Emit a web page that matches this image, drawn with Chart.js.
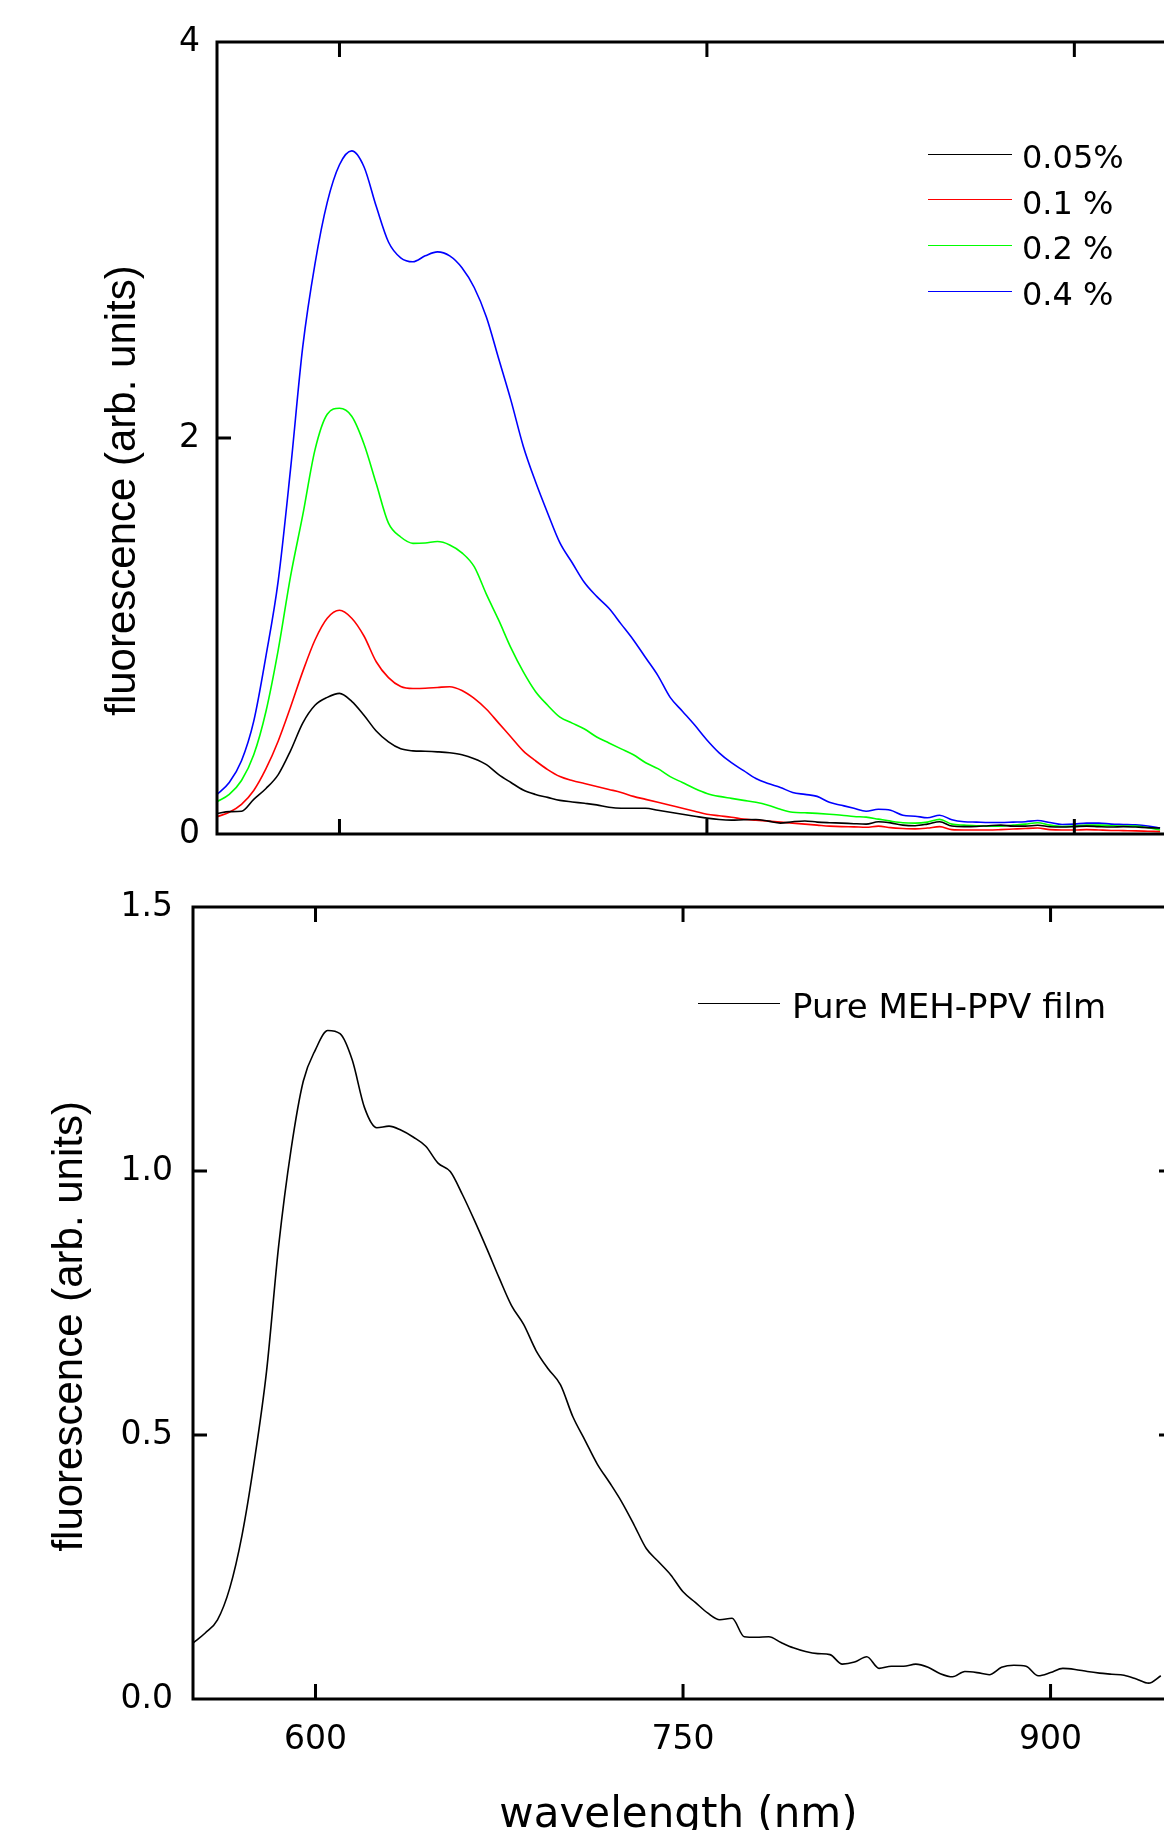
<!DOCTYPE html>
<html>
<head>
<meta charset="utf-8">
<script src="https://cdn.jsdelivr.net/npm/chart.js@4.4.1/dist/chart.umd.min.js"></script>
<style>
  html, body { margin: 0; padding: 0; overflow: hidden; background: #fff; }
  body { width: 1164px; height: 1830px; position: relative; }
  .box { position: absolute; left: 0; width: 1164px; }
  #topBox { top: 0; height: 880px; }
  #bottomBox { top: 860px; height: 990px; }
  .legend-row { position: absolute; height: 50px; display: flex; align-items: center; white-space: nowrap; font-family: "DejaVu Sans"; color: #000; }
  .swatch { display: inline-block; height: 0; border-top: 1.5px solid #000; }
  .legend-row .name { padding-top: 6px; }
</style>
</head>
<body>
<div class="box" id="topBox"><canvas id="topChart"></canvas></div>
<div class="box" id="bottomBox"><canvas id="bottomChart"></canvas></div>
<script>
// tick values
const xTickValues = [600, 750, 900];
const topYTickValues = [0, 2, 4];
const bottomYTickValues = [0, 0.5, 1, 1.5];

// upper panel: fluorescence of the blends, 550-935 nm in 5 nm steps
const topWavelengths = [
  550, 555, 560, 565, 570, 575, 580, 585, 590, 595,
  600, 605, 610, 615, 620, 625, 630, 635, 640, 645,
  650, 655, 660, 665, 670, 675, 680, 685, 690, 695,
  700, 705, 710, 715, 720, 725, 730, 735, 740, 745,
  750, 755, 760, 765, 770, 775, 780, 785, 790, 795,
  800, 805, 810, 815, 820, 825, 830, 835, 840, 845,
  850, 855, 860, 865, 870, 875, 880, 885, 890, 895,
  900, 905, 910, 915, 920, 925, 930, 935
];
const topNames = ["0.05%", "0.1 %", "0.2 %", "0.4 %"];
const conc005 = [
  0.104, 0.113, 0.115, 0.175, 0.23, 0.30, 0.42, 0.56, 0.65, 0.69,
  0.71, 0.67, 0.60, 0.52, 0.465, 0.43, 0.42, 0.418, 0.415, 0.41,
  0.40, 0.38, 0.35, 0.30, 0.26, 0.222, 0.20, 0.185, 0.17, 0.162,
  0.155, 0.147, 0.135, 0.13, 0.13, 0.13, 0.12, 0.11, 0.10, 0.09,
  0.08, 0.073, 0.07, 0.072, 0.073, 0.065, 0.055, 0.062, 0.066, 0.06,
  0.057, 0.055, 0.052, 0.05, 0.062, 0.056, 0.045, 0.042, 0.05, 0.062,
  0.04, 0.037, 0.038, 0.042, 0.045, 0.04, 0.04, 0.044, 0.037, 0.035,
  0.037, 0.04, 0.037, 0.035, 0.037, 0.035, 0.032, 0.03
];
const conc01 = [
  0.087, 0.11, 0.15, 0.22, 0.33, 0.47, 0.64, 0.82, 0.98, 1.09,
  1.13, 1.09, 1.00, 0.87, 0.79, 0.745, 0.735, 0.736, 0.74, 0.744,
  0.725, 0.685, 0.63, 0.56, 0.49, 0.42, 0.37, 0.325, 0.29, 0.27,
  0.255, 0.24, 0.225, 0.21, 0.19, 0.175, 0.16, 0.145, 0.13, 0.115,
  0.10, 0.092, 0.085, 0.075, 0.07, 0.065, 0.06, 0.055, 0.05, 0.045,
  0.04, 0.037, 0.036, 0.034, 0.04, 0.032, 0.028, 0.026, 0.03, 0.037,
  0.022, 0.02, 0.02, 0.02, 0.022, 0.025, 0.028, 0.03, 0.022, 0.02,
  0.02, 0.022, 0.02, 0.018, 0.017, 0.016, 0.014, 0.012
];
const conc02 = [
  0.163, 0.20, 0.27, 0.40, 0.62, 0.93, 1.30, 1.61, 1.94, 2.12,
  2.15, 2.11, 1.97, 1.77, 1.57, 1.50, 1.468, 1.47, 1.477, 1.46,
  1.42, 1.35, 1.21, 1.08, 0.94, 0.82, 0.72, 0.65, 0.59, 0.56,
  0.53, 0.49, 0.46, 0.43, 0.40, 0.36, 0.33, 0.29, 0.26, 0.23,
  0.205, 0.19, 0.18, 0.17, 0.16, 0.145, 0.125, 0.11, 0.107, 0.104,
  0.10, 0.095, 0.088, 0.085, 0.075, 0.065, 0.057, 0.055, 0.06, 0.074,
  0.05, 0.045, 0.042, 0.04, 0.04, 0.045, 0.05, 0.057, 0.045, 0.038,
  0.04, 0.045, 0.045, 0.042, 0.04, 0.04, 0.032, 0.02
];
const conc04 = [
  0.20, 0.26, 0.37, 0.57, 0.90, 1.28, 1.84, 2.46, 2.88, 3.19,
  3.38, 3.45, 3.37, 3.17, 2.99, 2.91, 2.89, 2.92, 2.94, 2.92,
  2.86, 2.76, 2.61, 2.40, 2.19, 1.96, 1.78, 1.62, 1.47, 1.37,
  1.27, 1.20, 1.14, 1.06, 0.98, 0.89, 0.80, 0.69, 0.62, 0.55,
  0.475, 0.41, 0.36, 0.32, 0.28, 0.255, 0.235, 0.21, 0.20, 0.19,
  0.16, 0.145, 0.13, 0.115, 0.125, 0.12, 0.095, 0.09, 0.082, 0.095,
  0.072, 0.062, 0.06, 0.058, 0.058, 0.06, 0.062, 0.068, 0.058, 0.048,
  0.05, 0.055, 0.055, 0.05, 0.048, 0.046, 0.04, 0.03
];
const topColors = ["#000000", "#ff0000", "#00ff00", "#0000ff"];

// lower panel: pure film, 550-945 nm in 5 nm steps
const bottomWavelengths = [
  550, 555, 560, 565, 570, 575, 580, 585, 590, 595,
  600, 605, 610, 615, 620, 625, 630, 635, 640, 645,
  650, 655, 660, 665, 670, 675, 680, 685, 690, 695,
  700, 705, 710, 715, 720, 725, 730, 735, 740, 745,
  750, 755, 760, 765, 770, 775, 780, 785, 790, 795,
  800, 805, 810, 815, 820, 825, 830, 835, 840, 845,
  850, 855, 860, 865, 870, 875, 880, 885, 890, 895,
  900, 905, 910, 915, 920, 925, 930, 935, 940, 945
];
const bottomNames = ["Pure MEH-PPV film"];
const pureFilm = [
  0.106, 0.125, 0.15, 0.21, 0.31, 0.45, 0.62, 0.86, 1.04, 1.17,
  1.23, 1.266, 1.26, 1.21, 1.12, 1.082, 1.085, 1.077, 1.064, 1.047,
  1.015, 0.999, 0.955, 0.905, 0.852, 0.797, 0.745, 0.709, 0.66, 0.625,
  0.595, 0.535, 0.49, 0.445, 0.41, 0.373, 0.33, 0.285, 0.26, 0.235,
  0.203, 0.183, 0.163, 0.15, 0.153, 0.118, 0.117, 0.118, 0.107, 0.097,
  0.09, 0.086, 0.084, 0.066, 0.07, 0.08, 0.058, 0.062, 0.062, 0.066,
  0.06, 0.048, 0.042, 0.052, 0.05, 0.046, 0.06, 0.064, 0.062, 0.044,
  0.05, 0.058, 0.056, 0.052, 0.049, 0.047, 0.045, 0.038, 0.03, 0.044
];
const bottomColors = ["#000000"];

Chart.defaults.font.family = "DejaVu Sans";
Chart.defaults.color = "#000";

const tickFont = { family: "DejaVu Sans", size: 33 };
const yTitleFont = { family: "Liberation Sans", size: 42, lineHeight: 1.2 };

// frame and inward tick marks, placed through the chart's scales
const framePlugin = {
  id: "frame",
  afterDatasetsDraw(chart, args, opts) {
    const { ctx, chartArea: a, scales: { x, y } } = chart;
    ctx.save();
    ctx.strokeStyle = "#000";
    ctx.lineWidth = 3;
    ctx.beginPath();
    ctx.moveTo(a.right + 4, a.top);
    ctx.lineTo(a.left, a.top);
    ctx.lineTo(a.left, a.bottom);
    ctx.lineTo(a.right + 4, a.bottom);
    for (const v of xTickValues) {
      const px = x.getPixelForValue(v);
      ctx.moveTo(px, a.bottom);
      ctx.lineTo(px, a.bottom - 15);
      ctx.moveTo(px, a.top);
      ctx.lineTo(px, a.top + 15);
    }
    for (const v of opts.yTicks) {
      const py = y.getPixelForValue(v);
      ctx.moveTo(a.left, py);
      ctx.lineTo(a.left + 14, py);
      if (opts.rightTicks) {
        ctx.moveTo(a.right, py);
        ctx.lineTo(a.right - 5, py);
      }
    }
    ctx.stroke();
    ctx.restore();
  }
};

function lineDatasets(names, series, colors, wavelengths) {
  return series.map((values, i) => ({
    label: names[i],
    data: wavelengths.map((w, j) => ({ x: w, y: values[j] })),
    borderColor: colors[i],
    borderWidth: 1.6,
    pointRadius: 0,
    cubicInterpolationMode: "monotone"
  }));
}

function panelOptions(cfg) {
  return {
    responsive: true,
    maintainAspectRatio: false,
    animation: false,
    devicePixelRatio: 1,
    layout: { padding: { top: cfg.padTop, left: 0, right: 0, bottom: 0 } },
    plugins: {
      legend: { display: false },
      tooltip: { enabled: false },
      frame: { yTicks: cfg.yTicks, rightTicks: cfg.rightTicks }
    },
    scales: {
      x: {
        type: "linear",
        min: 550,
        max: cfg.xMax,
        afterBuildTicks: s => { s.ticks = xTickValues.map(v => ({ value: v })); },
        afterFit: s => { s.height = cfg.xHeight; },
        grid: { display: false, drawTicks: false },
        border: { display: false },
        ticks: { display: cfg.xLabels, font: tickFont, padding: 22, maxRotation: 0 },
        title: {
          display: cfg.xLabels,
          text: "wavelength (nm)",
          font: { family: "DejaVu Sans", size: 42, lineHeight: 1.2 },
          padding: { top: 0, bottom: 9 }
        }
      },
      y: {
        type: "linear",
        min: cfg.yTicks[0],
        max: cfg.yTicks[cfg.yTicks.length - 1],
        afterBuildTicks: s => { s.ticks = cfg.yTicks.map(v => ({ value: v })); },
        afterFit: s => { s.width = cfg.yWidth; },
        grid: { display: false, drawTicks: false },
        border: { display: false },
        ticks: { font: tickFont, padding: cfg.yLabelGap, callback: cfg.yFormat },
        title: {
          display: true,
          // trailing spaces nudge the rotated title down like in the original
          text: "fluorescence (arb. units)" + " ".repeat(cfg.titleShift),
          font: yTitleFont,
          padding: { top: cfg.titlePad, bottom: 0 }
        }
      }
    }
  };
}

new Chart(document.querySelector("#topChart"), {
  type: "line",
  data: { datasets: lineDatasets(topNames, [conc005, conc01, conc02, conc04], topColors, topWavelengths) },
  options: panelOptions({
    padTop: 42, xMax: 936.6, xHeight: 46, xLabels: false,
    yTicks: topYTickValues, yWidth: 217, yLabelGap: 17, yFormat: v => String(v),
    titlePad: 98, titleShift: 9, rightTicks: false
  }),
  plugins: [framePlugin]
});

new Chart(document.querySelector("#bottomChart"), {
  type: "line",
  data: { datasets: lineDatasets(bottomNames, [pureFilm], bottomColors, bottomWavelengths) },
  options: panelOptions({
    padTop: 47, xMax: 946.3, xHeight: 151, xLabels: true,
    yTicks: bottomYTickValues, yWidth: 193, yLabelGap: 20, yFormat: v => v.toFixed(1),
    titlePad: 45, titleShift: 4, rightTicks: true
  }),
  plugins: [framePlugin]
});

// legends as html text, laid over the plot areas
function htmlLegend(names, colors, left, centerY, step, lineLength, gap, fontSize) {
  names.forEach((name, i) => {
    const row = document.createElement("div");
    row.className = "legend-row";
    row.style.left = left + "px";
    row.style.top = (centerY + i * step - 25) + "px";
    row.style.fontSize = fontSize + "px";
    const swatch = document.createElement("span");
    swatch.className = "swatch";
    swatch.style.width = lineLength + "px";
    swatch.style.marginRight = gap + "px";
    swatch.style.borderTopColor = colors[i];
    const label = document.createElement("span");
    label.className = "name";
    label.textContent = name;
    row.append(swatch, label);
    document.body.append(row);
  });
}

htmlLegend(topNames, topColors, 928, 154, 45.7, 84, 10, 32);
htmlLegend(bottomNames, bottomColors, 698, 1003, 0, 82, 12, 34);
</script>
</body>
</html>
